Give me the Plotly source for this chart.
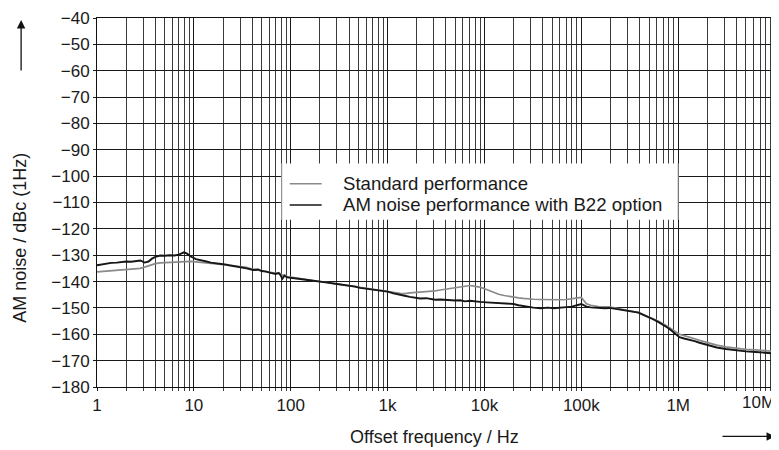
import plotly.graph_objects as go

# ---------------- data ----------------
freq_hz = [1, 1.1, 1.25, 1.4, 1.6, 1.8, 2.0, 2.25, 2.5, 2.8, 3.1, 3.4, 3.7, 4.0, 4.5, 5.0, 5.6, 6.3, 7.0, 7.5,
           7.9, 8.5, 9.3, 10.5, 12, 13.5, 15, 17, 19, 21, 23, 26, 30, 35, 41, 46, 50, 56, 62, 70,
           75, 78, 82, 86, 92, 100, 110, 125, 150, 175, 200, 240, 300, 350, 400, 460, 520, 600, 700, 850,
           1000, 1150, 1350, 1500, 1700, 1900, 2170, 2500, 2800, 3100, 3500, 4000, 4500, 5000, 5600, 6300, 7100, 8000, 9000, 10500,
           12300, 14000, 16000, 18000, 20000, 22500, 25000, 28000, 32000, 38000, 45000, 52000, 60000, 70000, 80000, 88000, 96000, 100000, 106000, 113000,
           125000, 150000, 175000, 195000, 220000, 250000, 290000, 340000, 390000, 430000, 490000, 550000, 620000, 700000, 780000, 850000, 940000, 1030000, 1150000, 1300000,
           1480000, 1660000, 1870000, 2100000, 2500000, 3100000, 3800000, 5000000, 6300000, 8000000, 9200000, 10500000]

noise_b22 = [-133.8, -133.5, -133.2, -132.9, -132.8, -132.5, -132.4, -132.5, -132.2, -132.0, -132.8, -132.4, -131.3, -130.6, -130.1, -130.2, -130.0, -130.1, -129.8, -129.3,
             -128.9, -129.4, -130.5, -131.5, -132.1, -132.4, -132.8, -133.0, -133.4, -133.5, -133.8, -134.1, -134.5, -135.0, -135.6, -135.5, -136.0, -136.2, -136.7, -137.1,
             -136.8, -137.4, -138.9, -137.8, -138.4, -138.5, -138.8, -139.0, -139.4, -139.8, -140.1, -140.4, -140.9, -141.2, -141.5, -141.9, -142.4, -142.7, -143.1, -143.5,
             -143.8, -144.5, -145.2, -145.4, -145.8, -146.2, -146.4, -146.3, -146.6, -146.9, -146.8, -147.0, -146.9, -147.2, -147.1, -147.5, -147.3, -147.6, -147.7, -147.9,
             -148.1, -148.2, -148.3, -148.6, -148.5, -149.0, -149.3, -149.6, -149.9, -150.1, -149.9, -150.1, -149.8, -149.7, -149.5, -149.2, -148.7, -148.5, -149.0, -149.5,
             -149.8, -150.0, -150.1, -150.0, -150.3, -150.6, -150.9, -151.3, -151.8, -152.5, -153.3, -154.3, -155.3, -156.4, -157.5, -158.6, -160.0, -161.1, -161.6, -162.0,
             -162.6, -163.2, -163.8, -164.3, -165.0, -165.6, -166.1, -166.5, -166.7, -166.9, -167.2, -167.5]

noise_std = [-136.3, -136.2, -136.0, -135.9, -135.8, -135.7, -135.6, -135.4, -135.2, -135.0, -134.5, -134.0, -133.6, -133.2, -132.9, -132.8, -132.7, -132.6, -132.5, -132.5,
             -132.4, -132.3, -132.3, -132.5, -132.7, -132.8, -133.0, -133.1, -133.3, -133.5, -133.7, -134.0, -134.3, -134.6, -135.4, -135.3, -135.9, -136.1, -136.5, -136.9,
             -136.6, -137.0, -137.6, -137.5, -138.1, -138.3, -138.6, -138.9, -139.3, -139.7, -140.0, -140.3, -140.7, -141.0, -141.3, -141.8, -142.2, -142.5, -142.8, -143.2,
             -143.6, -144.1, -144.5, -144.6, -144.3, -144.2, -144.0, -143.8, -143.6, -143.5, -143.2, -142.9, -142.6, -142.3, -141.9, -141.6, -141.5, -141.8, -142.1, -143.0,
             -144.0, -144.8, -145.3, -145.7, -145.9, -146.2, -146.4, -146.6, -146.7, -146.8, -146.9, -147.0, -146.9, -146.8, -146.6, -146.5, -146.1, -146.0, -147.3, -148.4,
             -149.0, -149.5, -149.6, -149.6, -150.0, -150.4, -150.8, -151.3, -151.8, -152.4, -153.2, -154.1, -155.0, -156.0, -157.0, -158.0, -159.2, -160.0, -160.5, -161.0,
             -161.7, -162.3, -162.9, -163.3, -164.1, -164.8, -165.3, -165.7, -165.9, -166.1, -166.4, -166.8]

series_names = ["Standard performance", "AM noise performance with B22 option"]

x_major_vals = [1, 10, 100, 1e3, 1e4, 1e5, 1e6, 1e7]
x_major_text = ["1", "10", "100", "1k", "10k", "100k", "1M", "10M"]
y_tick_vals = list(range(-180, -30, 10))
y_tick_text = ["\u2212" + str(abs(v)) for v in y_tick_vals]

x_title = "Offset frequency / Hz"
y_title = "AM noise / dBc (1Hz)"

# ---------------- layout geometry ----------------
# The page body has an 8 px margin, so the figure is drawn 8 px in from the window corner.
OFF = 8
W, H = 779 - OFF, 450 - OFF
ML, MR, MT, MB = 97 - OFF, 1, 14 - OFF, 63
PW, PH = W - ML - MR, H - MT - MB


def px(xw):
    """window pixel x -> paper x"""
    return (xw - OFF - ML) / PW


def py(yw):
    """window pixel y -> paper y"""
    return (H - MB - (yw - OFF)) / PH


FONT = "Liberation Sans, Arial, sans-serif"
TXT = "#1a1a1a"
GRAY_LINE = "#8a8a8a"
BLACK_LINE = "#161616"

minor_vals = []
for d in range(0, 8):
    for m in range(2, 10):
        v = m * 10 ** d
        if v < 1.05e7:
            minor_vals.append(v)

fig = go.Figure()
fig.add_trace(go.Scatter(x=freq_hz, y=noise_std, mode="lines", name=series_names[0],
                         line=dict(color=GRAY_LINE, width=1.7), showlegend=False))
fig.add_trace(go.Scatter(x=freq_hz, y=noise_b22, mode="lines", name=series_names[1],
                         line=dict(color=BLACK_LINE, width=1.9), showlegend=False))

fig.update_layout(
    width=W, height=H,
    margin=dict(l=ML, r=MR, t=MT, b=MB, pad=0),
    paper_bgcolor="white", plot_bgcolor="white",
    font=dict(family=FONT, size=17, color=TXT),
    showlegend=False,
)

fig.update_xaxes(
    type="log", range=[0, 7.02],
    tickmode="array", tickvals=x_major_vals, ticktext=x_major_text[:-1] + [""],
    showgrid=True, gridcolor="#1a1a1a", gridwidth=1,
    ticks="outside", ticklen=3, tickcolor="#1a1a1a",
    minor=dict(tickvals=minor_vals, showgrid=True, gridcolor="#3c3c3c", gridwidth=1,
               ticks="outside", ticklen=3, tickcolor="#3c3c3c"),
    showline=True, linecolor="#111", linewidth=1, mirror=True,
    zeroline=False, tickfont=dict(size=17, family=FONT, color=TXT),
)
fig.update_yaxes(
    range=[-180, -40],
    tickmode="array", tickvals=y_tick_vals, ticktext=y_tick_text,
    showgrid=True, gridcolor="#1a1a1a", gridwidth=1,
    ticks="outside", ticklen=3, tickcolor="#1a1a1a",
    ticklabeloverflow="allow",
    showline=True, linecolor="#111", linewidth=1, mirror=True,
    zeroline=False, tickfont=dict(size=17, family=FONT, color=TXT),
)

shapes = []
# legend box
lx0, lx1, ly0, ly1 = 282, 679, 161, 218
shapes.append(dict(type="rect", xref="paper", yref="paper", x0=px(lx0), x1=px(lx1), y0=py(ly1), y1=py(ly0),
                   fillcolor="white", line=dict(width=0), layer="above"))
for xx in (lx0, lx1):
    shapes.append(dict(type="line", xref="paper", yref="paper", x0=px(xx), x1=px(xx), y0=py(ly1), y1=py(ly0),
                       line=dict(color="#9a9a9a", width=1), layer="above"))
row_y = [181.5, 203]
row_col = [GRAY_LINE, BLACK_LINE]
for ry, rc in zip(row_y, row_col):
    shapes.append(dict(type="line", xref="paper", yref="paper", x0=px(290), x1=px(322), y0=py(ry), y1=py(ry),
                       line=dict(color=rc, width=1.5), layer="above"))
fig.update_layout(shapes=shapes)

ann = []
for ry, nm in zip(row_y, series_names):
    ann.append(dict(xref="paper", yref="paper", x=px(341), y=py(ry), xanchor="left", yanchor="middle",
                    text=nm, showarrow=False, font=dict(size=18.6, family=FONT, color=TXT)))
# 10M label (right aligned at the figure edge)
ann.append(dict(xref="x", yref="paper", x=7, y=py(403), xanchor="right", yanchor="middle", xshift=2,
                text=x_major_text[-1], showarrow=False, font=dict(size=17, family=FONT, color=TXT)))
# axis titles
ann.append(dict(xref="paper", yref="paper", x=px(434.5), y=py(438), xanchor="center", yanchor="middle",
                text=x_title, showarrow=False, font=dict(size=18, family=FONT, color=TXT)))
ann.append(dict(xref="paper", yref="paper", x=px(20), y=py(236), xanchor="center", yanchor="middle",
                text=y_title, textangle=-90, showarrow=False, font=dict(size=18, family=FONT, color=TXT)))
# arrows
ann.append(dict(xref="paper", yref="paper", x=px(21), y=py(16), text="", showarrow=True,
                ax=0, ay=52, arrowhead=2, arrowsize=1.3, arrowwidth=1.3, arrowcolor="#111"))
ann.append(dict(xref="paper", yref="paper", x=px(776), y=py(437), text="", showarrow=True,
                ax=-54, ay=0, arrowhead=2, arrowsize=1.3, arrowwidth=1.3, arrowcolor="#111"))
fig.update_layout(annotations=ann)

fig.write_html("out.html")
